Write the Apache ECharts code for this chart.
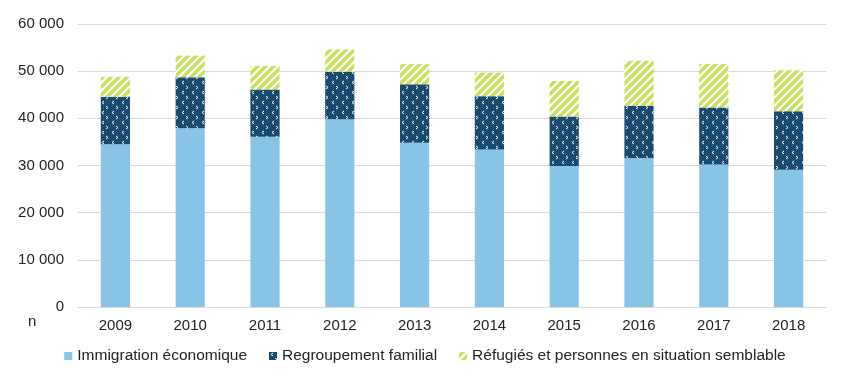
<!DOCTYPE html>
<html><head><meta charset="utf-8">
<script src="https://cdn.jsdelivr.net/npm/echarts@6/dist/echarts.min.js"></script>
<style>html,body{margin:0;padding:0;background:#fff}#c{width:850px;height:390px}</style>
</head><body><div id="c"></div>
<script>
const years = ['2009','2010','2011','2012','2013','2014','2015','2016','2017','2018'];
const seriesNames = ['Immigration économique','Regroupement familial','Réfugiés et personnes en situation semblable'];
const economique = [34500,37900,36100,39800,34800,33400,29900,31600,30200,29100];
const familial   = [10100,10800,10000,10100,12400,11300,10500,11000,12100,12400];
const refugies   = [4200,4600,5000,4700,4300,5000,7500,9600,9200,8700];
const yMin = 0, yMax = 60000, yStep = 10000;

function navyPattern(){
  const c=document.createElement('canvas');c.width=10;c.height=10;
  const g=c.getContext('2d');
  g.fillStyle='#174a6e';g.fillRect(0,0,10,10);
  g.strokeStyle='#ffffff';g.lineWidth=1;
  g.beginPath();g.moveTo(4,1);g.lineTo(2,2.5);g.lineTo(4,4);g.stroke();
  g.beginPath();g.moveTo(6,6);g.lineTo(8,7.5);g.lineTo(6,9);g.stroke();
  return c;
}
function greenPattern(){
  const s=8;
  const c=document.createElement('canvas');c.width=s;c.height=s;
  const g=c.getContext('2d');
  g.fillStyle='#c8e05c';g.fillRect(0,0,s,s);
  g.strokeStyle='#ffffff';g.lineWidth=2.2;
  g.beginPath();
  g.moveTo(-1,s+1);g.lineTo(s+1,-1);
  g.moveTo(-1-s/2,s/2+1);g.lineTo(s/2+1,-1-s/2);
  g.moveTo(s/2-1,s+s/2+1);g.lineTo(s+s/2+1,s/2-1);
  g.stroke();
  return c;
}
const font = '"Liberation Sans", Arial, sans-serif';
const chart = echarts.init(document.getElementById('c'), null, {renderer:'canvas'});
chart.setOption({
  animation:false,
  textStyle:{fontFamily:font},
  grid:{left:78,right:24,top:24,bottom:83,containLabel:false},
  legend:{
    bottom:21,left:'center',icon:'rect',itemWidth:8,itemHeight:8,itemGap:22,
    textStyle:{fontFamily:font,fontSize:15.5,color:'#222'},
    data:seriesNames
  },
  xAxis:{
    type:'category',data:years,
    axisLine:{show:true,lineStyle:{color:'#d9d9d9',width:1}},
    axisTick:{show:false},
    axisLabel:{fontFamily:font,fontSize:15,color:'#222',margin:11}
  },
  yAxis:{
    type:'value',min:yMin,max:yMax,interval:yStep,
    axisLine:{show:false},axisTick:{show:false},
    splitLine:{lineStyle:{color:'#d9d9d9',width:1}},
    axisLabel:{fontFamily:font,fontSize:15,color:'#222',margin:14,
      formatter:v=>String(v).replace(/\B(?=(\d{3})+(?!\d))/g,' ')}
  },
  graphic:[{type:'text',left:28,top:314,style:{text:'n',font:'15px '+font,fill:'#222'}}],
  series:[
    {name:seriesNames[0],type:'bar',stack:'a',barWidth:'39%',data:economique,
     itemStyle:{color:'#88c4e6'}},
    {name:seriesNames[1],type:'bar',stack:'a',data:familial,
     itemStyle:{color:{image:navyPattern(),repeat:'repeat'}}},
    {name:seriesNames[2],type:'bar',stack:'a',data:refugies,
     itemStyle:{color:{image:greenPattern(),repeat:'repeat'}}}
  ]
});
</script></body></html>
